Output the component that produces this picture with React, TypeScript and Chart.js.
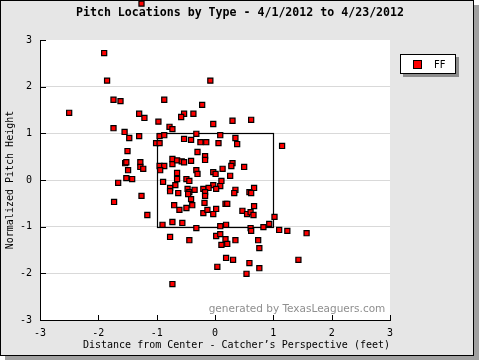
import React, { useEffect, useRef } from "react";
import { Chart, registerables } from "chart.js";

Chart.register(...registerables);

const TITLE = "Pitch Locations by Type - 4/1/2012 to 4/23/2012";
const X_TITLE = "Distance from Center - Catcher’s Perspective (feet)";
const Y_TITLE = "Normalized Pitch Height";
const SERIES_LABEL = "FF";
const WATERMARK = "generated by TexasLeaguers.com";
const X_TICKS = [-3, -2, -1, 0, 1, 2, 3];
const Y_TICKS = [-3, -2, -1, 0, 1, 2, 3];
const ZONE_X = [-1, 1];
const ZONE_Y = [-1, 1];

const PITCH_X = [
  -1.26, -1.9, -1.85, -0.08, -1.74, -1.62, -0.87, -2.5, -1.3, -1.21,
  -0.97, -0.22, -0.37, -0.53, -0.58, -0.03, -1.74, -0.78, -0.73, 0.3,
  0.62, -1.55, -1.47, -1.3, -0.95, -0.87, -0.32, 0.09, 0.35, 0.38,
  -1.01, -0.95, -0.53, -0.41, -0.25, -0.15, 0.06, 1.15, -1.5, -0.3,
  -0.17, -0.17, -0.73, -0.73, -0.65, -0.57, -0.53, -0.41, -0.95, -0.87,
  -0.94, -1.54, -1.52, -1.28, -1.28, -1.23, -1.49, -1.52, -1.42, -1.66,
  -1.73, -1.26, -1.16, -0.65, -0.32, -0.3, -0.03, 0.01, 0.3, 0.28,
  0.13, 0.5, 0.26, -0.65, -0.49, -0.44, -0.89, 0.11, 0.09, -0.03,
  -0.68, -0.77, -0.77, -0.63, -0.47, -0.44, -0.46, -0.35, -0.2, -0.11,
  -0.17, -0.17, 0.02, 0.35, 0.33, 0.67, 0.59, 0.62, -0.41, -0.18,
  0.18, 0.21, -0.7, -0.39, 0.67, -0.61, -0.49, -0.2, -0.13, -0.03,
  0.02, 0.47, 0.55, 0.61, 0.66, 1.02, -0.9, -0.73, -0.56, -0.32,
  0.09, 0.19, 0.61, 0.62, 0.83, 0.93, 1.1, 1.24, 1.57, -0.77,
  -0.44, 0.02, 0.09, 0.18, 0.35, 0.74, 0.11, 0.21, 0.76, 0.19,
  0.31, 0.59, 1.43, 0.04, 0.76, 0.54, -0.73,
];

const PITCH_Y = [
  3.78, 2.72, 2.13, 2.13, 1.72, 1.69, 1.72, 1.44, 1.42, 1.33,
  1.25, 1.61, 1.42, 1.42, 1.35, 1.2, 1.11, 1.14, 1.09, 1.27,
  1.29, 1.03, 0.9, 0.94, 0.94, 0.96, 0.99, 0.96, 0.9, 0.77,
  0.79, 0.79, 0.88, 0.86, 0.81, 0.81, 0.79, 0.73, 0.62, 0.6,
  0.51, 0.43, 0.45, 0.34, 0.42, 0.4, 0.38, 0.41, 0.3, 0.3,
  0.21, 0.36, 0.38, 0.38, 0.28, 0.24, 0.21, 0.04, 0.02, -0.06,
  -0.47, -0.34, -0.75, 0.15, 0.21, 0.13, 0.17, 0.13, 0.36, 0.3,
  0.24, 0.28, 0.09, 0.02, 0.02, -0.02, -0.04, -0.02, -0.13, -0.11,
  -0.11, -0.17, -0.24, -0.28, -0.19, -0.26, -0.3, -0.21, -0.19, -0.17,
  -0.26, -0.34, -0.19, -0.21, -0.28, -0.17, -0.26, -0.28, -0.41, -0.49,
  -0.51, -0.51, -0.54, -0.54, -0.56, -0.64, -0.6, -0.71, -0.64, -0.73,
  -0.62, -0.66, -0.73, -0.69, -0.75, -0.79, -0.96, -0.9, -0.92, -1.03,
  -0.99, -0.96, -1.03, -1.09, -1.01, -0.94, -1.07, -1.09, -1.14, -1.22,
  -1.29, -1.2, -1.16, -1.27, -1.29, -1.29, -1.39, -1.37, -1.46, -1.67,
  -1.71, -1.78, -1.71, -1.86, -1.89, -2.01, -2.23,
];

const MONO = "'DejaVu Sans Mono', monospace";
const SANS = "'DejaVu Sans', sans-serif";

const framePlugin = {
  id: "frame",
  beforeDraw(chart: any) {
    const { ctx, chartArea } = chart;
    ctx.save();
    ctx.fillStyle = "#ffffff";
    ctx.fillRect(0, 0, 480, 360);
    ctx.fillStyle = "#a0a0a0";
    ctx.fillRect(5, 5, 474, 355);
    ctx.fillStyle = "#e6e6e6";
    ctx.fillRect(0, 0, 474, 356);
    ctx.strokeStyle = "#000";
    ctx.lineWidth = 1;
    ctx.strokeRect(0.5, 0.5, 473, 355);
    ctx.fillStyle = "#ffffff";
    ctx.fillRect(chartArea.left, chartArea.top, chartArea.right - chartArea.left, chartArea.bottom - chartArea.top);
    ctx.restore();
  },
  beforeDatasetsDraw(chart: any) {
    const { ctx, chartArea, scales } = chart;
    const xs = scales.x;
    const ys = scales.y;
    ctx.save();
    ctx.strokeStyle = "#000";
    ctx.lineWidth = 1;
    // inward ticks
    ctx.beginPath();
    xs.ticks.forEach((t: any) => {
      const px = Math.round(xs.getPixelForValue(t.value)) + 0.5;
      ctx.moveTo(px, chartArea.bottom);
      ctx.lineTo(px, chartArea.bottom - 5);
    });
    ys.ticks.forEach((t: any) => {
      const py = Math.round(ys.getPixelForValue(t.value)) + 0.5;
      ctx.moveTo(chartArea.left, py);
      ctx.lineTo(chartArea.left + 6, py);
    });
    ctx.stroke();
    // strike zone
    const x0 = Math.round(xs.getPixelForValue(ZONE_X[0])) + 0.5;
    const x1 = Math.round(xs.getPixelForValue(ZONE_X[1])) + 0.5;
    const y0 = Math.round(ys.getPixelForValue(ZONE_Y[1])) + 0.5;
    const y1 = Math.round(ys.getPixelForValue(ZONE_Y[0])) + 0.5;
    ctx.lineWidth = 1.2;
    ctx.strokeRect(x0, y0, x1 - x0, y1 - y0);
    // watermark
    ctx.fillStyle = "#8f8f8f";
    ctx.font = `10.5px ${SANS}`;
    ctx.textAlign = "center";
    ctx.textBaseline = "middle";
    ctx.fillText(WATERMARK, chartArea.right - 93, chartArea.bottom - 11);
    ctx.restore();
  },
  afterDatasetsDraw(chart: any) {
    // points lying beyond the plot area (library skips them otherwise)
    const { ctx, chartArea } = chart;
    const meta = chart.getDatasetMeta(0);
    const big = { left: -1e4, top: -1e4, right: 1e4, bottom: 1e4 };
    meta.data.forEach((el: any) => {
      const inside =
        el.x >= chartArea.left && el.x <= chartArea.right && el.y >= chartArea.top && el.y <= chartArea.bottom;
      if (!inside) el.draw(ctx, big);
    });
  },
  afterDraw(chart: any) {
    const { ctx } = chart;
    const ds = chart.data.datasets[0];
    ctx.save();
    ctx.fillStyle = "#8c8c8c";
    ctx.fillRect(403, 57, 56, 20);
    ctx.fillStyle = "#fff";
    ctx.fillRect(400, 54, 56, 20);
    ctx.strokeStyle = "#000";
    ctx.lineWidth = 1;
    ctx.strokeRect(400.5, 54.5, 55, 19);
    ctx.fillStyle = ds.backgroundColor;
    ctx.fillRect(413, 60, 9, 9);
    ctx.strokeRect(413.5, 60.5, 8, 8);
    ctx.fillStyle = "#000";
    ctx.font = `10px ${SANS}`;
    ctx.textAlign = "left";
    ctx.textBaseline = "middle";
    ctx.fillText(ds.label, 434, 65);
    ctx.restore();
  },
};

export default function App() {
  const ref = useRef<HTMLCanvasElement | null>(null);
  useEffect(() => {
    document.body.style.margin = "0";
    const points = PITCH_X.map((x, i) => ({ x, y: PITCH_Y[i] }));
    const chart = new Chart(ref.current as HTMLCanvasElement, {
      type: "scatter",
      data: {
        datasets: [
          {
            label: SERIES_LABEL,
            data: points,
            pointStyle: "rect",
            pointRadius: 3.6,
            pointHoverRadius: 3.6,
            backgroundColor: "#ff0000",
            borderColor: "#000000",
            borderWidth: 1.2,
            clip: false as any,
          },
        ],
      },
      options: {
        animation: false,
        responsive: false,
        events: [],
        layout: { padding: 0 },
        plugins: {
          legend: { display: false },
          tooltip: { enabled: false },
          title: {
            display: true,
            text: TITLE,
            color: "#000",
            font: { family: MONO, size: 11.6, weight: "bold" },
            padding: { top: 6, bottom: 20.08 },
          },
        },
        scales: {
          x: {
            type: "linear",
            min: X_TICKS[0],
            max: X_TICKS[X_TICKS.length - 1],
            afterBuildTicks: (s: any) => {
              s.ticks = X_TICKS.map((v) => ({ value: v }));
            },
            ticks: {
              color: "#000",
              font: { family: MONO, size: 10 },
              padding: 7,
              maxRotation: 0,
            },
            grid: { display: false, drawTicks: false },
            border: { display: true, color: "#000", width: 1 },
            title: {
              display: true,
              text: X_TITLE,
              color: "#000",
              align: "end",
              font: { family: MONO, size: 10 },
              padding: { top: 0, bottom: 9 },
            },
            afterFit: (s: any) => {
              s.height = 40;
            },
          },
          y: {
            type: "linear",
            position: "left",
            min: Y_TICKS[0],
            max: Y_TICKS[Y_TICKS.length - 1],
            afterBuildTicks: (s: any) => {
              s.ticks = Y_TICKS.map((v) => ({ value: v }));
            },
            ticks: {
              color: "#000",
              font: { family: MONO, size: 10 },
              padding: 8,
            },
            grid: {
              drawTicks: false,
              color: (c: any) =>
                c.tick && (c.tick.value === Y_TICKS[0] || c.tick.value === Y_TICKS[Y_TICKS.length - 1])
                  ? "rgba(0,0,0,0)"
                  : "#d9d9d9",
              lineWidth: 1,
            },
            border: { display: true, color: "#000", width: 1 },
            title: {
              display: true,
              text: Y_TITLE,
              color: "#000",
              font: { family: MONO, size: 10 },
              padding: { top: 4, bottom: 0 },
            },
            afterFit: (s: any) => {
              s.width = 40;
            },
          },
          y2: {
            type: "linear",
            position: "right",
            ticks: { display: false },
            grid: { display: false, drawTicks: false },
            border: { display: false },
            afterFit: (s: any) => {
              s.width = 90;
            },
          },
        },
      },
      plugins: [framePlugin],
    } as any);
    return () => chart.destroy();
  }, []);
  return (
    <div style={{ position: "fixed", left: 0, top: 0, width: 480, height: 360 }}>
      <canvas ref={ref} width={480} height={360} style={{ width: 480, height: 360, display: "block" }} />
    </div>
  );
}
